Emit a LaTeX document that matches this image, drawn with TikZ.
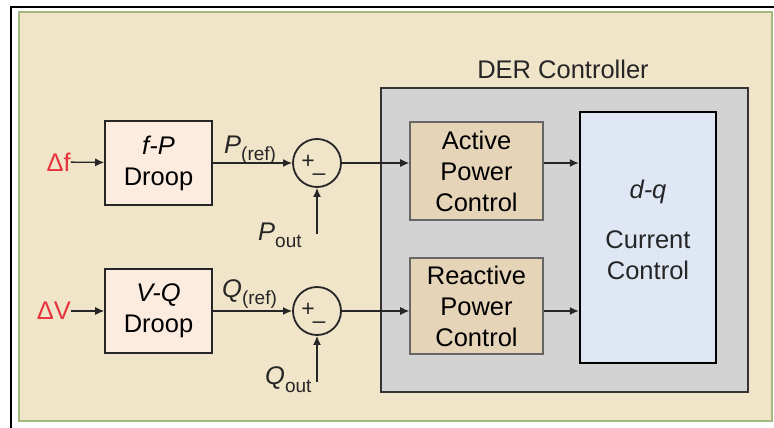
\documentclass[tikz,border=0pt]{standalone}
\usepackage{fontspec}
\setmainfont{Liberation Sans}
\usetikzlibrary{arrows.meta,positioning}
\definecolor{bgbeige}{HTML}{F0E4C9}
\definecolor{framegreen}{HTML}{A3B87E}
\definecolor{droopfill}{HTML}{FCEBDF}
\definecolor{ctrlfill}{HTML}{E5D4B8}
\definecolor{dergray}{HTML}{D3D3D3}
\definecolor{dqblue}{HTML}{DFE6F4}
\definecolor{sigred}{HTML}{E8343C}
\definecolor{inkgray}{HTML}{262626}
\newcommand{\blockfont}{\fontsize{25.5}{31}\selectfont}
\newcommand{\subfont}{\fontsize{19}{19}\selectfont}
\newcommand{\signfont}{\fontsize{23}{23}\selectfont}

\begin{document}
\begin{tikzpicture}[x=1pt, y=-1pt,
    droop/.style={draw=inkgray, line width=1.6pt, fill=droopfill, minimum width=107pt,
                  minimum height=84pt, font=\blockfont, align=center, inner sep=0pt},
    ctrl/.style={draw=black!60, line width=1.6pt, fill=ctrlfill, minimum width=133pt,
                 font=\blockfont, align=center, inner sep=0pt},
    summer/.style={circle, draw=inkgray, line width=1.8pt, minimum size=48pt, inner sep=0pt},
    sig/.style={-{Latex[length=9pt, width=8pt]}, line width=1.3pt, inkgray},
    lbl/.style={font=\blockfont, text=inkgray, inner sep=0pt},
    inp/.style={font=\blockfont, text=sigred, inner sep=0pt}
]
\useasboundingbox (0,0) rectangle (774,428);
\fill[white] (0,0) rectangle (774,428);

% --- frame ---
\draw[line width=1.8pt] (774,7) -- (11,7) -- (11,428);
\draw[framegreen, line width=2.5pt, fill=bgbeige] (19,12) rectangle (772,421);

% --- DER controller ---
\node[draw=black!80, line width=2.4pt, fill=dergray, minimum width=367pt, minimum height=304pt]
    (der) at (564.5,240) {};
\node[lbl] (derlbl) at (563,69) {DER Controller};

\node[ctrl, minimum height=98pt] (act) at (476.5,171) {Active\\Power\\Control};
\node[ctrl, minimum height=96pt] (react) at (476.5,306) {Reactive\\Power\\Control};
\node[draw=black, line width=2.4pt, fill=dqblue, minimum width=136pt, minimum height=251pt]
    (dq) at (648,237.5) {};
\node[lbl, align=center] (dqlbl) at ([yshift=8pt]dq.center) {\textit{d-q}\\[19pt]Current\\Control};

% --- droop blocks ---
\node[droop] (fp) at (158.5,163) {\textit{f-P}\\Droop};
\node[droop] (vq) at (158.5,311) {\textit{V-Q}\\Droop};
\node[inp, anchor=east] (df) at (71,162) {Δf};
\node[inp, anchor=east] (dv) at (71,311) {ΔV};

% --- summing points ---
\node[summer] (sum1) at (317,163) {};
\node[summer] (sum2) at (317,311) {};
\node[lbl, font=\signfont] at (308,162) {+};
\node[lbl, font=\signfont] at (319,177) {\textendash};
\node[lbl, font=\signfont] at (308,310) {+};
\node[lbl, font=\signfont] at (319,325) {\textendash};

\coordinate (pout) at (317,234);
\coordinate (qout) at (317,382);

% --- labels ---
\node[lbl, anchor=base west] (preflbl) at (224,153) {\textit{P}\raisebox{-7pt}{\subfont(ref)}};
\node[lbl, anchor=base west] (qreflbl) at (222,297) {\textit{Q}\raisebox{-7pt}{\subfont(ref)}};
\node[lbl, anchor=base west] (poutlbl) at (258,240) {\textit{P}\raisebox{-7pt}{\subfont out}};
\node[lbl, anchor=base west] (qoutlbl) at (265,384) {\textit{Q}\raisebox{-8pt}{\subfont out}};

% --- signals ---
\draw[sig] (df) -- (fp);
\draw[sig] (dv) -- (vq);
\draw[sig] (fp) -- (sum1);
\draw[sig] (vq) -- (sum2);
\draw[sig] (pout) -- (sum1);
\draw[sig] (qout) -- (sum2);
\draw[sig] (sum1) -- (sum1 -| act.west);
\draw[sig] (sum2) -- (sum2 -| react.west);
\draw[sig] (act.east |- sum1) -- (sum1 -| dq.west);
\draw[sig] (react.east |- sum2) -- (sum2 -| dq.west);

\end{tikzpicture}
\end{document}
